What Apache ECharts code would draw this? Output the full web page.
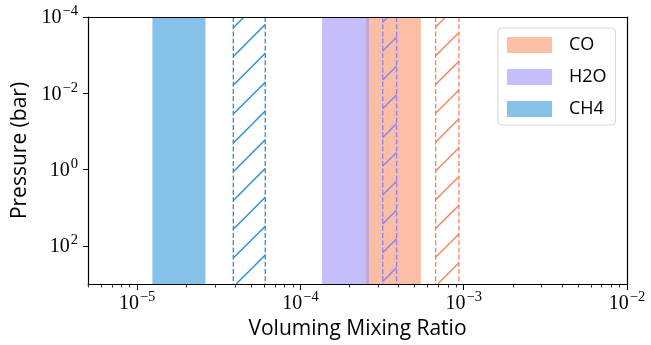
<!DOCTYPE html>
<html>
<head>
<meta charset="utf-8">
<script src="https://cdn.jsdelivr.net/npm/echarts@6/dist/echarts.min.js"></script>
<style>
  html, body { margin: 0; padding: 0; background: #fff; }
  #chart { width: 651px; height: 345px; }
</style>
</head>
<body>
<div id="chart"></div>
<script>
// Species shown, in legend order
const species = ['CO', 'H2O', 'CH4'];
// Solid bands: volume mixing ratio range per species
const fillLow  = [2.52e-4, 1.355e-4, 1.24e-5];
const fillHigh = [5.47e-4, 2.63e-4, 2.62e-5];
// Hatched bands: second range per species
const hatchLow  = [6.73e-4, 3.19e-4, 3.88e-5];
const hatchHigh = [9.35e-4, 3.88e-4, 6.09e-5];
// Pressure span covered by every band (bar)
const pressureSpan = [1e-4, 1e3];

// Axis ticks
const xMajorTicks = [1e-5, 1e-4, 1e-3, 1e-2];
const xMinorTicks = [
  5e-6, 6e-6, 7e-6, 8e-6, 9e-6,
  2e-5, 3e-5, 4e-5, 5e-5, 6e-5, 7e-5, 8e-5, 9e-5,
  2e-4, 3e-4, 4e-4, 5e-4, 6e-4, 7e-4, 8e-4, 9e-4,
  2e-3, 3e-3, 4e-3, 5e-3, 6e-3, 7e-3, 8e-3, 9e-3
];
const yMajorTicks = [1e-4, 1e-2, 1, 1e2];

// Colours
const baseColor  = { CO: '#fa9569', H2O: '#9c94f7', CH4: '#3498db' };
const paleColor  = { CO: '#fdbfa5', H2O: '#c5c0fb', CH4: '#85c1e9' };
const hatchColor = { CO: '#f5845e', H2O: '#8a80f2', CH4: '#2a8ed3' };

const SERIF = '"Liberation Serif", "DejaVu Serif", serif';
const SANS = '"Open Sans", "DejaVu Sans", sans-serif';

function powLabel(v) {
  const e = Math.round(Math.log10(v));
  const s = e < 0 ? '\u2212' + (-e) : String(e);
  return '{a|10}{b|' + s + '}';
}
const richPow = {
  a: { fontFamily: SERIF, fontSize: 20, color: '#000', verticalAlign: 'bottom', lineHeight: 22 },
  b: { fontFamily: SERIF, fontSize: 14.5, color: '#000', verticalAlign: 'bottom', lineHeight: 22, padding: [0, 0, 9, 1] }
};

function bandRect(params, api) {
  const a = api.coord([api.value(0), pressureSpan[0]]);
  const b = api.coord([api.value(1), pressureSpan[1]]);
  return {
    x0: Math.min(a[0], b[0]), x1: Math.max(a[0], b[0]),
    y0: Math.min(a[1], b[1]), y1: Math.max(a[1], b[1])
  };
}

function renderFill(params, api) {
  const r = bandRect(params, api);
  const name = species[params.dataIndex];
  return {
    type: 'rect',
    shape: { x: r.x0, y: r.y0, width: r.x1 - r.x0, height: r.y1 - r.y0 },
    style: { fill: baseColor[name], opacity: 0.6 }
  };
}

// '/' hatch: lines x + y = const on a fixed canvas-wide lattice
const HATCH_STEP = 28.8, HATCH_PHASE = 1.8;
function renderHatch(params, api) {
  const r = bandRect(params, api);
  const name = species[params.dataIndex];
  const col = hatchColor[name];
  const children = [];
  const cMin = r.x0 + r.y0, cMax = r.x1 + r.y1;
  let k = Math.ceil((cMin - HATCH_PHASE) / HATCH_STEP);
  for (let c = k * HATCH_STEP + HATCH_PHASE; c <= cMax; c += HATCH_STEP) {
    const xa = Math.max(r.x0, c - r.y1);
    const xb = Math.min(r.x1, c - r.y0);
    if (xb <= xa) continue;
    children.push({
      type: 'line',
      shape: { x1: xa, y1: c - xa, x2: xb, y2: c - xb },
      style: { stroke: col, lineWidth: 1.4 }
    });
  }
  [r.x0, r.x1].forEach(function (x) {
    children.push({
      type: 'line',
      shape: { x1: x, y1: r.y0, x2: x, y2: r.y1 },
      style: { stroke: col, lineWidth: 1.3, lineDash: [5, 2.2] }
    });
  });
  return { type: 'group', children: children };
}

const fillData = species.map((s, i) => [fillLow[i], fillHigh[i], pressureSpan[0], pressureSpan[1]]);
const hatchData = species.map((s, i) => [hatchLow[i], hatchHigh[i], pressureSpan[0], pressureSpan[1]]);

const chart = echarts.init(document.getElementById('chart'), null, { renderer: 'canvas' });
chart.setOption({
  animation: false,
  backgroundColor: '#fff',
  grid: { left: 88, right: 24, top: 17, bottom: 61 },
  legend: {
    orient: 'vertical',
    left: 498, top: 28,
    padding: [8, 9, 7, 9],
    itemWidth: 45, itemHeight: 16, itemGap: 14,
    icon: 'rect',
    backgroundColor: '#fff',
    borderColor: '#d6d6d6', borderWidth: 1, borderRadius: 4,
    textStyle: { fontFamily: SANS, fontSize: 18, color: '#000', padding: [0, 0, 0, 12] },
    data: species.map(s => ({ name: s, itemStyle: { color: paleColor[s], opacity: 1 } }))
  },
  xAxis: [
    {
      type: 'log', logBase: 10, min: 5e-6, max: 1e-2, position: 'bottom', z: 10,
      name: 'Voluming Mixing Ratio', nameLocation: 'middle', nameGap: 35,
      nameTextStyle: { fontFamily: SANS, fontSize: 21, color: '#000' },
      axisLine: { show: true, lineStyle: { color: '#000', width: 1.2 } },
      axisTick: { show: true, inside: false, length: 6, customValues: xMajorTicks, lineStyle: { color: '#000', width: 1 } },
      axisLabel: { customValues: xMajorTicks, margin: 8, formatter: powLabel, rich: richPow },
      splitLine: { show: false }
    },
    {
      type: 'log', logBase: 10, min: 5e-6, max: 1e-2, position: 'bottom', z: 10,
      axisLine: { show: false },
      axisTick: { show: true, length: 3.5, customValues: xMinorTicks, lineStyle: { color: '#000', width: 0.8 } },
      axisLabel: { show: false },
      splitLine: { show: false }
    },
    {
      type: 'log', logBase: 10, min: 5e-6, max: 1e-2, position: 'top', z: 10,
      axisLine: { show: true, lineStyle: { color: '#000', width: 1.2 } },
      axisTick: { show: false }, axisLabel: { show: false }, splitLine: { show: false }
    }
  ],
  yAxis: [
    {
      type: 'log', logBase: 10, min: pressureSpan[0], max: pressureSpan[1], inverse: true, position: 'left', z: 10,
      name: 'Pressure (bar)', nameLocation: 'middle', nameGap: 56, nameRotate: 90,
      nameTextStyle: { fontFamily: SANS, fontSize: 21, color: '#000' },
      axisLine: { show: true, lineStyle: { color: '#000', width: 1.2 } },
      axisTick: { show: true, length: 5, customValues: yMajorTicks, lineStyle: { color: '#000', width: 1 } },
      axisLabel: { customValues: yMajorTicks, margin: 10, formatter: powLabel, rich: richPow },
      splitLine: { show: false }
    },
    {
      type: 'log', logBase: 10, min: pressureSpan[0], max: pressureSpan[1], inverse: true, position: 'right', z: 10,
      axisLine: { show: true, lineStyle: { color: '#000', width: 1.2 } },
      axisTick: { show: false }, axisLabel: { show: false }, splitLine: { show: false }
    }
  ],
  series: [
    {
      type: 'custom', name: 'CO', xAxisIndex: 0, yAxisIndex: 0,
      data: [fillData[0]], encode: { x: [0, 1], y: [2, 3] },
      itemStyle: { color: paleColor.CO },
      renderItem: function (p, api) { return renderFill({ dataIndex: 0 }, api); }
    },
    {
      type: 'custom', name: 'H2O', xAxisIndex: 0, yAxisIndex: 0,
      data: [fillData[1]], encode: { x: [0, 1], y: [2, 3] },
      itemStyle: { color: paleColor.H2O },
      renderItem: function (p, api) { return renderFill({ dataIndex: 1 }, api); }
    },
    {
      type: 'custom', name: 'CH4', xAxisIndex: 0, yAxisIndex: 0,
      data: [fillData[2]], encode: { x: [0, 1], y: [2, 3] },
      itemStyle: { color: paleColor.CH4 },
      renderItem: function (p, api) { return renderFill({ dataIndex: 2 }, api); }
    },
    {
      type: 'custom', name: 'hatched ranges', xAxisIndex: 0, yAxisIndex: 0,
      data: hatchData, encode: { x: [0, 1], y: [2, 3] },
      renderItem: renderHatch
    }
  ]
});
</script>
</body>
</html>
